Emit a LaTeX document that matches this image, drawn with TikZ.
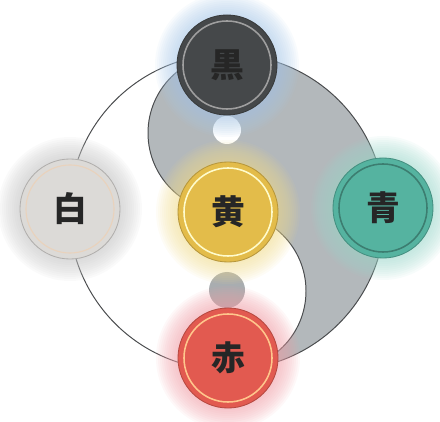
\documentclass[tikz,border=0pt]{standalone}
\usepackage{fontspec}
\newfontfamily\cjk{Noto Sans CJK JP}
\usetikzlibrary{positioning}
\definecolor{yinC}{HTML}{B3B8BB}
\definecolor{edgeC}{HTML}{4A4C4E}
\definecolor{dotC}{HTML}{A9ADB0}
\definecolor{kuroC}{HTML}{45484A}
\definecolor{shiroC}{HTML}{DCDAD7}
\definecolor{kiC}{HTML}{E3BC4A}
\definecolor{aoC}{HTML}{55B3A0}
\definecolor{akaC}{HTML}{E25A50}
\definecolor{glowKuro}{HTML}{A9C8E8}
\definecolor{glowShiro}{HTML}{C4C4C4}
\definecolor{glowKi}{HTML}{F0DC90}
\definecolor{glowAo}{HTML}{9FD8CC}
\definecolor{glowAka}{HTML}{F0A0A8}
\tikzset{
  %% element discs
  gogyo/.style 2 args={circle, fill=#1, draw=#1!80!black, line width=0.6pt,
    minimum size=2.5cm, inner sep=0pt,
    font=\cjk\bfseries\fontsize{24}{24}\selectfont, text=black!85,
    path picture={\draw[line width=1.1pt, #2]
      (path picture bounding box.center) circle (1.1cm);}},
  %% soft halo behind a disc
  halo/.style={fill=#1, opacity=0.08},
  %% outline of the big circle and the S curve
  rim/.style={draw=edgeC, line width=0.7pt},
}
\begin{document}
\begin{tikzpicture}[x=0.025cm, y=0.025cm]
\useasboundingbox (0,0) rectangle (440,421);

%% yin-yang
\fill[yinC] (227,367) arc[start angle=90, end angle=-90, radius=158]
  arc[start angle=-90, end angle=90, radius=79]
  arc[start angle=270, end angle=90, radius=79] -- cycle;
\draw[rim] (227,209) circle (158);
\draw[rim] (227,51) arc[start angle=-90, end angle=90, radius=79]
  arc[start angle=270, end angle=90, radius=79];
\fill[white] (227,291) circle (14);
\fill[dotC] (227,131) circle (18);

%% halos
\foreach \px/\py/\gc in {227/356/glowKuro, 70/212/glowShiro, 228/209/glowKi,
                          383/213/glowAo, 228/63/glowAka}
  \foreach \k in {1,...,11}
    \fill[halo=\gc] (\px,\py) circle (50+2*\k);

%% elements
\node[gogyo={kuroC}{draw=gray!75}]        (kuro)  at (227,356) {黒};
\node[gogyo={shiroC}{draw=brown!35,
  line width=0.8pt}]                      (shiro) at (70,212)  {白};
\node[gogyo={kiC}{draw=yellow!20}]        (ki)    at (228,209) {黄};
\node[gogyo={aoC}{draw=aoC!70!black}]     (ao)    at (383,213) {青};
\node[gogyo={akaC}{draw=orange!45}]       (aka)   at (228,63)  {赤};

\end{tikzpicture}
\end{document}
